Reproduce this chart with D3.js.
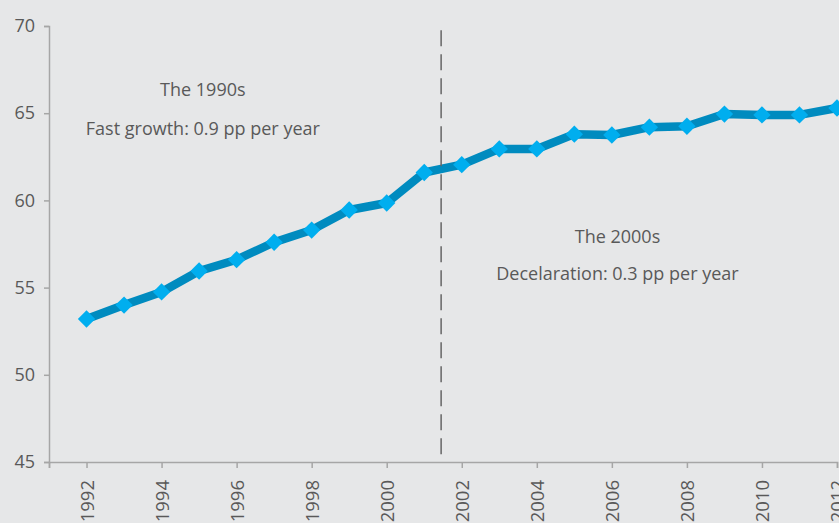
<!DOCTYPE html>
<html>
<head>
<meta charset="utf-8">
<script src="https://cdn.jsdelivr.net/npm/d3@7"></script>
<style>
  html, body { margin: 0; padding: 0; background: #e6e7e8; overflow: hidden; }
  svg { display: block; }
</style>
</head>
<body>
<svg id="chart" width="839" height="523"></svg>
<script>
// values
const years = [1992, 1993, 1994, 1995, 1996, 1997, 1998, 1999, 2000, 2001, 2002,
  2003, 2004, 2005, 2006, 2007, 2008, 2009, 2010, 2011, 2012];
const shares = [53.2, 54.0, 54.75, 55.95, 56.6, 57.6, 58.3, 59.45, 59.85, 61.6, 62.05,
  62.95, 62.95, 63.8, 63.75, 64.2, 64.25, 64.95, 64.9, 64.9, 65.3];
const yTicks = [45, 50, 55, 60, 65, 70];
const xTickYears = [1992, 1994, 1996, 1998, 2000, 2002, 2004, 2006, 2008, 2010, 2012];
const breakYear = 2001.45; // dashed divider between the two decades
const notes = [
  { year: 1995.1, value: 66.0, text: 'The 1990s' },
  { year: 1995.1, value: 63.75, text: 'Fast growth: 0.9 pp per year' },
  { year: 2006.15, value: 57.55, text: 'The 2000s' },
  { year: 2006.15, value: 55.45, text: 'Decelaration: 0.3 pp per year' }
];

const width = 839, height = 523;
const margin = { top: 26, right: 2, bottom: 61, left: 49 };

const svg = d3.select('#chart');
const font = "'Open Sans', sans-serif";
const textColor = '#595959';
const axisColor = '#a6a6a6';

// x runs from one step before the first year so 1992 sits off the axis line
const x = d3.scaleLinear()
  .domain([1991, 2012])
  .range([margin.left, width - margin.right]);

const y = d3.scaleLinear()
  .domain([45, 70])
  .range([height - margin.bottom, margin.top]);

// y axis
const yAxis = svg.append('g')
  .attr('transform', `translate(${margin.left},0)`)
  .call(d3.axisLeft(y).tickValues(yTicks).tickSize(5).tickPadding(9));
yAxis.select('.domain').attr('stroke', axisColor).attr('stroke-width', 1.5);
yAxis.selectAll('.tick line').attr('stroke', axisColor).attr('stroke-width', 1.5);
yAxis.selectAll('.tick text')
  .attr('fill', textColor)
  .attr('font-family', font)
  .attr('font-size', 18);

// x axis
const xAxis = svg.append('g')
  .attr('transform', `translate(0,${height - margin.bottom})`)
  .call(d3.axisBottom(x).tickValues([1991, ...xTickYears]).tickSize(6).tickFormat(d => d === 1991 ? '' : d));
xAxis.select('.domain').attr('stroke', axisColor).attr('stroke-width', 1.5);
xAxis.selectAll('.tick line').attr('stroke', axisColor).attr('stroke-width', 1.5);
xAxis.selectAll('.tick text')
  .attr('fill', textColor)
  .attr('font-family', font)
  .attr('font-size', 18.5)
  .attr('text-anchor', 'end')
  .attr('y', 0)
  .attr('dy', '0.36em')
  .attr('transform', 'translate(0,18) rotate(-90)');

// the series line
const pts = years.map((yr, i) => [yr, shares[i]]);
const line = d3.line()
  .x(d => x(d[0]))
  .y(d => y(d[1]));

svg.append('path')
  .datum(pts)
  .attr('fill', 'none')
  .attr('stroke', '#008bbf')
  .attr('stroke-width', 8.5)
  .attr('stroke-linejoin', 'round')
  .attr('d', line);

// diamond markers
const diamond = d3.symbol().type(d3.symbolSquare).size(150);
svg.append('g')
  .selectAll('path')
  .data(pts)
  .join('path')
    .attr('fill', '#00aeef')
    .attr('transform', d => `translate(${x(d[0])},${y(d[1])}) rotate(45)`)
    .attr('d', diamond);

// dashed divider on top
svg.append('line')
  .attr('x1', x(breakYear))
  .attr('x2', x(breakYear))
  .attr('y1', y(69.75))
  .attr('y2', y(45))
  .attr('stroke', '#666666')
  .attr('stroke-width', 1.5)
  .attr('stroke-dasharray', '16,8');

// annotations
svg.append('g')
  .selectAll('text')
  .data(notes)
  .join('text')
    .attr('x', d => x(d.year))
    .attr('y', d => y(d.value))
    .attr('text-anchor', 'middle')
    .attr('fill', textColor)
    .attr('font-family', font)
    .attr('font-size', 18)
    .text(d => d.text);
</script>
</body>
</html>
